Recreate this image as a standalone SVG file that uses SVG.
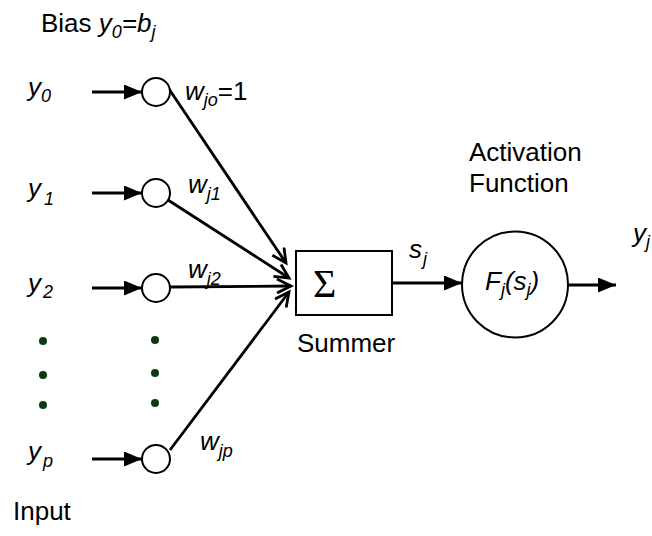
<svg xmlns="http://www.w3.org/2000/svg" width="652" height="536" viewBox="0 0 652 536">
<defs>
<style>
text{font-family:"Liberation Sans",Arial,sans-serif;font-size:26px;fill:#000}
.i{font-style:italic}
.sub{font-size:18px}
.ln{stroke:#000;stroke-width:2.8;fill:none}
.nd{stroke:#000;stroke-width:2;fill:#fff}
.dot{fill:#0b3a12}
</style>
<marker id="fa" markerUnits="userSpaceOnUse" markerWidth="20" markerHeight="16" refX="18" refY="7.5" orient="auto">
<path d="M0,0 L18,7.5 L0,15 z" fill="#000"/>
</marker>
<marker id="oa" markerUnits="userSpaceOnUse" markerWidth="20" markerHeight="18" refX="15" refY="8" orient="auto">
<path d="M1,1 L15,8 L1,15" fill="none" stroke="#000" stroke-width="2.8"/>
</marker>
</defs>

<g id="labels">
<text x="41" y="32">Bias <tspan class="i">y</tspan><tspan class="i sub" dy="6">0</tspan><tspan dy="-6" class="i">=b</tspan><tspan class="i sub" dy="6">j</tspan></text>
<text x="13" y="520">Input</text>
</g>

<g id="connectors">
<line class="ln" x1="92" y1="92" x2="142" y2="92" marker-end="url(#fa)"/>
<line class="ln" x1="92" y1="193" x2="142" y2="193" marker-end="url(#fa)"/>
<line class="ln" x1="92" y1="288" x2="142" y2="288" marker-end="url(#fa)"/>
<line class="ln" x1="92" y1="459" x2="142" y2="459" marker-end="url(#fa)"/>
<line class="ln" x1="167" y1="86" x2="286" y2="263" marker-end="url(#oa)"/>
<line class="ln" x1="168" y1="200" x2="289" y2="278" marker-end="url(#oa)"/>
<line class="ln" x1="170" y1="287" x2="291" y2="286" marker-end="url(#oa)"/>
<line class="ln" x1="170" y1="450" x2="289" y2="292" marker-end="url(#oa)"/>
<line class="ln" x1="392" y1="283" x2="462" y2="283" marker-end="url(#fa)"/>
<line class="ln" x1="568" y1="285" x2="616" y2="285" marker-end="url(#fa)"/>
</g>

<g id="input-y0">
<text class="i" x="28" y="96">y<tspan class="sub" dy="6">0</tspan></text>
<circle class="nd" cx="156" cy="92" r="14"/>
<text class="i" x="185" y="100">w<tspan class="sub" dy="6">jo</tspan><tspan dy="-6" font-style="normal">=1</tspan></text>
</g>
<g id="input-y1">
<text class="i" x="28" y="197">y<tspan class="sub" dx="3" dy="8">1</tspan></text>
<circle class="nd" cx="156" cy="193" r="14"/>
<text class="i" x="188" y="193">w<tspan class="sub" dy="7">j1</tspan></text>
</g>
<g id="input-y2">
<text class="i" x="28" y="292">y<tspan class="sub" dx="2" dy="6">2</tspan></text>
<circle class="nd" cx="156" cy="288" r="14"/>
<text class="i" x="188" y="278">w<tspan class="sub" dy="7">j2</tspan></text>
</g>
<g id="dots">
<circle class="dot" cx="43" cy="341" r="4"/>
<circle class="dot" cx="43" cy="375" r="4"/>
<circle class="dot" cx="43" cy="405" r="4"/>
<circle class="dot" cx="155" cy="340" r="4"/>
<circle class="dot" cx="155" cy="373" r="4"/>
<circle class="dot" cx="155" cy="403" r="4"/>
</g>
<g id="input-yp">
<text class="i" x="28" y="460">y<tspan class="sub" dx="2" dy="7">p</tspan></text>
<circle class="nd" cx="156" cy="459" r="14"/>
<text class="i" x="200" y="450">w<tspan class="sub" dy="7">jp</tspan></text>
</g>

<g id="summer">
<rect x="296" y="251" width="96" height="64" fill="#fff" stroke="#000" stroke-width="2"/>
<text x="313" y="297" style="font-family:'Liberation Serif','Times New Roman',serif;font-size:40px">Σ</text>
<text x="297" y="352">Summer</text>
<text class="i" x="409" y="258">s<tspan class="sub" dx="1" dy="7">j</tspan></text>
</g>

<g id="activation">
<text x="469" y="161">Activation</text>
<text x="469" y="192">Function</text>
<circle class="nd" cx="515" cy="284.5" r="53"/>
<text class="i" x="485" y="290">F<tspan class="sub" dy="6">j</tspan><tspan dy="-6">(s</tspan><tspan class="sub" dy="6">j</tspan><tspan dy="-6">)</tspan></text>
</g>

<g id="output">
<text class="i" x="633" y="242">y<tspan class="sub" dy="6">j</tspan></text>
</g>
</svg>
